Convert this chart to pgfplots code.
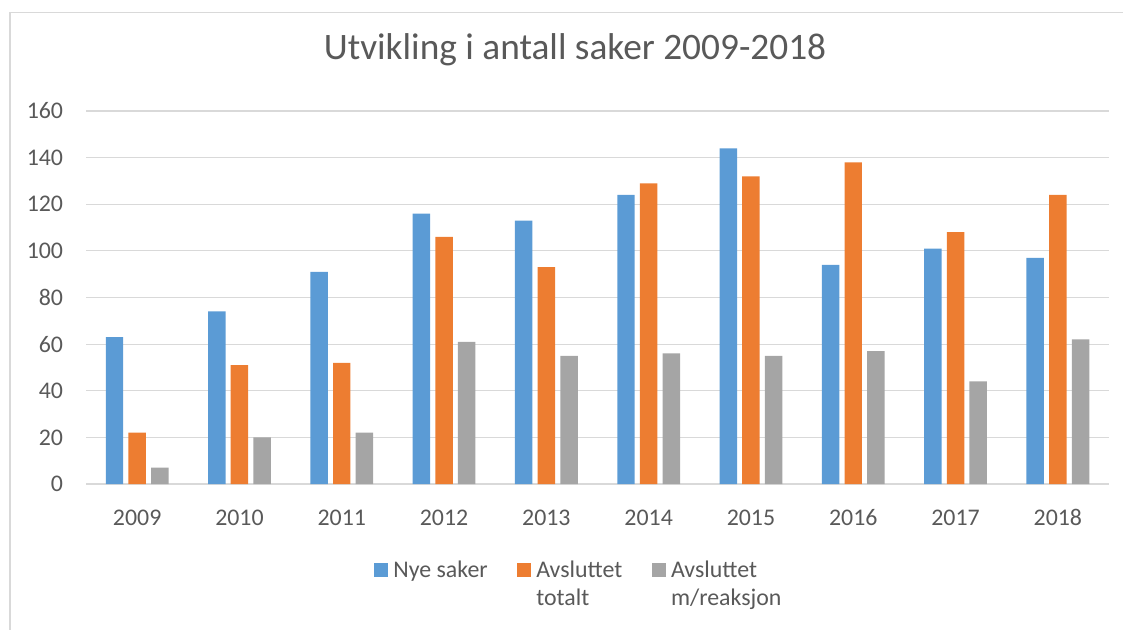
\documentclass[border=0pt]{standalone}
\usepackage{pgfplots}
\pgfplotsset{compat=1.18}
\usepackage{fontspec}
\setmainfont{Carlito}
\definecolor{cblue}{HTML}{5B9BD5}
\definecolor{corange}{HTML}{ED7D31}
\definecolor{cgray}{HTML}{A5A5A5}
\definecolor{ctext}{HTML}{595959}
\definecolor{cgrid}{HTML}{D9D9D9}
\begin{document}
\begin{tikzpicture}
\useasboundingbox (0,0) rectangle (842.25pt,471.75pt);
\draw[cgrid, line width=0.9pt] (7.5pt,-5pt) -- (7.5pt,462.5pt) -- (850pt,462.5pt);
\begin{axis}[
  at={(64.5pt,108.75pt)}, anchor=south west,
  width=767.25pt, height=279.75pt, scale only axis,
  xmin=-0.5, xmax=9.5, ymin=0, ymax=160,
  ytick={0,20,...,160},
  xtick={0,...,9},
  xticklabels={2009,2010,2011,2012,2013,2014,2015,2016,2017,2018},
  ybar=3.9pt, bar width=13.1pt,
  axis line style={draw=none},
  major tick length=0pt,
  ymajorgrids, grid style={cgrid, line width=0.9pt},
  /pgf/number format/assume math mode=true,
  ticklabel style={font=\fontsize{17.9}{21}\selectfont, text=ctext},
  yticklabel style={inner sep=0pt, xshift=-17pt},
  xticklabel style={inner sep=0pt, anchor=north, yshift=-19pt},
  title={Utvikling i antall saker 2009-2018},
  title style={font=\fontsize{28}{33}\selectfont, text=ctext, anchor=base, at={(axis description cs:0.478,1.1153)}},
  legend columns=3,
  legend style={draw=none, font=\fontsize{17.9}{21}\selectfont, text=ctext,
    at={(axis description cs:0.482,-0.19)}, anchor=north,
    cells={anchor=base west},
    /tikz/every odd column/.append style={column sep=2pt},
    /tikz/every even column/.append style={column sep=20pt}},
  legend image code/.code={\fill[#1] (0pt,0pt) rectangle (10.5pt,10.5pt);},
]
\addplot[fill=cblue, draw=none] coordinates {(0,63) (1,74) (2,91) (3,116) (4,113) (5,124) (6,144) (7,94) (8,101) (9,97)};
\addplot[fill=corange, draw=none] coordinates {(0,22) (1,51) (2,52) (3,106) (4,93) (5,129) (6,132) (7,138) (8,108) (9,124)};
\addplot[fill=cgray, draw=none] coordinates {(0,7) (1,20) (2,22) (3,61) (4,55) (5,56) (6,55) (7,57) (8,44) (9,62)};
\legend{Nye saker, {\vtop{\hbox{Avsluttet}\hbox{totalt}}}, {\vtop{\hbox{Avsluttet}\hbox{m/reaksjon}}}}
\end{axis}
\end{tikzpicture}
\end{document}
